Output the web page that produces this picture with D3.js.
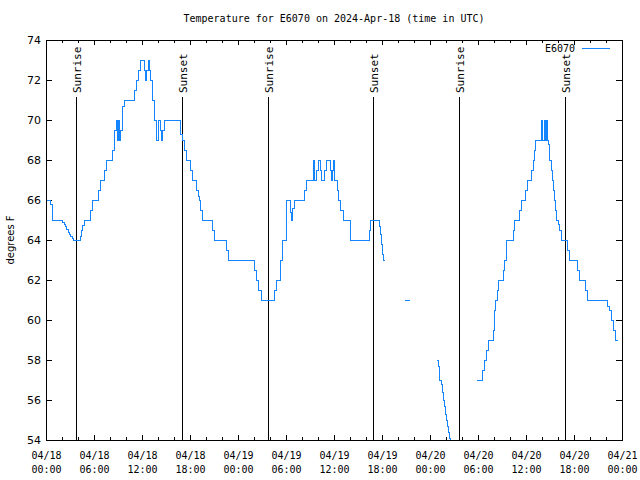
<!DOCTYPE html>
<html>
<head>
<meta charset="utf-8">
<script src="https://cdn.jsdelivr.net/npm/d3@7"></script>
<style>
  html, body { margin: 0; padding: 0; background: #fff; }
  svg { display: block; }
  text { fill: #000; }
</style>
</head>
<body>
<svg id="chart" width="640" height="480"></svg>
<script>
// ---- DATA (hours since 2024-04-18 00:00 UTC, degrees F); null = gap ----
const hours = [
  0, 0.58, 0.75, 2.08, 2.25, 2.42, 2.58, 2.75, 2.92, 3.08, 3.25, 3.4,
  4.33, 4.45, 4.6, 4.8, 5.58, 5.8, 6.5, 6.75, 7.3, 7.6,
  8.33, 8.5, 8.62, 8.75, 8.92, 9.08, 9.2, 9.33, 9.5, 9.62, 9.75,
  11.04, 11.3, 11.55, 11.8, 12.3, 12.45, 12.6, 12.75, 12.95, 13.1, 13.3, 13.5, 13.8,
  14.05, 14.25, 14.4, 14.6, 14.8, 16.8, 17.05, 17.3, 17.5, 18.1, 18.3,
  18.8, 19.05, 19.2, 19.35, 19.5, 20.8, 21.04, 22.5, 22.8,
  26.0, 26.3, 26.6, 26.9, 28.6, 28.8, 29.3, 29.5, 30.0, 30.12, 30.5, 30.7, 30.85, 31.0,
  32.3, 32.5, 33.4, 33.5, 33.62, 33.8, 34.0, 34.3, 34.42, 34.8, 35.0, 35.5, 35.65, 35.85, 35.95, 36.1,
  36.4, 36.5, 36.8, 37.2, 38.05, 40.4, 40.6, 41.65, 41.75, 41.95, 42.08, 42.2, 42.4,
  43.5,
  44.9, 45.5,
  47.0,
  48.92, 49.04, 49.17, 49.46, 49.58, 49.7, 49.83, 49.96, 50.08, 50.2, 50.33, 50.46, 50.58, 50.7,
  52.0,
  53.9, 54.6, 54.75, 55.1, 55.3, 55.96, 56.1, 56.2, 56.45, 56.6, 57.2, 57.35, 57.5, 57.6,
  58.4, 58.6, 59.2, 59.4, 59.9, 60.2, 60.7, 60.9, 61.1, 61.2,
  61.88, 62.0, 62.25, 62.38, 62.5, 62.63, 62.75, 62.9,
  63.17, 63.3, 63.4, 63.5, 63.7, 63.8, 64.0, 64.2, 64.4, 65.2, 65.4, 66.4, 66.7, 67.4, 67.7,
  70.2, 70.4, 70.7, 70.9, 71.2, 71.5
];
const temps = [
  66, 65.8, 65, 64.9, 64.8, 64.7, 64.55, 64.4, 64.3, 64.2, 64.1, 64,
  64.2, 64.5, 64.75, 65, 65.5, 66, 66.5, 67, 67.5, 68,
  68.5, 69, 69.5, 70, 69, 70, 69, 69.5, 70.3, 70.7, 71,
  71.5, 72, 72.5, 73, 72.5, 72, 72.5, 73, 72.5, 72, 71, 70, 69,
  70, 69.5, 69, 69.5, 70, 69.3, 69, 68.5, 68, 67.5, 67,
  66.5, 66.2, 66, 65.5, 65, 64.5, 64, 63.5, 63,
  62.5, 62, 61.5, 61, 61.5, 62, 63, 64, 64.5, 66, 65.4, 65, 65.6, 66,
  66.5, 67, 68, 67.5, 67, 67.5, 68, 67.5, 67, 67.5, 68, 67.5, 67, 67.5, 68, 67,
  66.5, 66, 65.5, 65, 64, 64.5, 65, 64.7, 64.3, 63.8, 63.3, 63, 63,
  null,
  61, 61,
  null,
  58, 57.7, 57, 56.8, 56.4, 56.0, 55.7, 55.3, 55.0, 54.7, 54.4, 54.1, 53.8, 53.5,
  null,
  57, 57.5, 58, 58.5, 59, 59.5, 60.5, 61, 61.5, 62, 62.5, 63, 63.5, 64,
  64.5, 65, 65.5, 66, 66.5, 67, 67.5, 68, 68.5, 69,
  70, 69, 70, 69, 70, 69, 68.8, 68,
  67.5, 67, 66.5, 66, 65.5, 65, 64.8, 64.5, 64, 63.5, 63, 62.5, 62, 61.5, 61,
  60.7, 60.5, 60, 59.5, 59, 59
];
const sunHours = [3.75, 17.04, 27.79, 40.92, 51.67, 64.92];
const sunLabels = ["Sunrise", "Sunset", "Sunrise", "Sunset", "Sunrise", "Sunset"];
const xTickHours = [0, 6, 12, 18, 24, 30, 36, 42, 48, 54, 60, 66, 72];
const xTickDates = ["04/18", "04/18", "04/18", "04/18", "04/19", "04/19", "04/19", "04/19", "04/20", "04/20", "04/20", "04/20", "04/21"];
const xTickTimes = ["00:00", "06:00", "12:00", "18:00", "00:00", "06:00", "12:00", "18:00", "00:00", "06:00", "12:00", "18:00", "00:00"];
const yTicks = [54, 56, 58, 60, 62, 64, 66, 68, 70, 72, 74];
const seriesName = "E6070";
const titleText = "Temperature for E6070 on 2024-Apr-18 (time in UTC)";
const yTitle = "degrees F";

// ---- LAYOUT ----
const L = 46, R = 622, T = 40, B = 440;
const svg = d3.select("#chart");
const mono = "'DejaVu Sans Mono', monospace";
const sans = "'DejaVu Sans', sans-serif";
const lineColor = "#1485ff";

const x = d3.scaleLinear().domain([0, 72]).range([L, R]);
const y = d3.scaleLinear().domain([54, 74]).range([B, T]);

svg.append("rect").attr("width", 640).attr("height", 480).attr("fill", "#fff");

svg.append("clipPath").attr("id", "clip")
  .append("rect").attr("x", L).attr("y", T).attr("width", R - L).attr("height", B - T + 1);

// title
svg.append("text").attr("x", 334).attr("y", 22).attr("text-anchor", "middle")
  .style("font-family", mono).style("font-size", "10px").text(titleText);

// ticks inward on all four sides
const minorHours = d3.range(0, 73, 2);
function tickSet(g, vals, orient, len) {
  vals.forEach(v => {
    if (orient === "bottom") g.append("line").attr("x1", Math.round(x(v)) + 0.5).attr("x2", Math.round(x(v)) + 0.5).attr("y1", B).attr("y2", B - len);
    if (orient === "top") g.append("line").attr("x1", Math.round(x(v)) + 0.5).attr("x2", Math.round(x(v)) + 0.5).attr("y1", T).attr("y2", T + len);
    if (orient === "left") g.append("line").attr("y1", Math.round(y(v)) + 0.5).attr("y2", Math.round(y(v)) + 0.5).attr("x1", L).attr("x2", L + len);
    if (orient === "right") g.append("line").attr("y1", Math.round(y(v)) + 0.5).attr("y2", Math.round(y(v)) + 0.5).attr("x1", R).attr("x2", R - len);
  });
}
const tg = svg.append("g").attr("stroke", "#000").attr("stroke-width", 1).attr("shape-rendering", "crispEdges");
tickSet(tg, minorHours.filter(h => h % 6 !== 0), "bottom", 3);
tickSet(tg, minorHours.filter(h => h % 6 !== 0), "top", 3);
tickSet(tg, xTickHours, "bottom", 5);
tickSet(tg, xTickHours, "top", 5);
tickSet(tg, yTicks, "left", 6);
tickSet(tg, yTicks, "right", 6);

// x axis labels
const xAxis = d3.axisBottom(x).tickValues(xTickHours).tickSize(0).tickFormat(() => "");
const xg = svg.append("g").attr("transform", `translate(0,${B})`).call(xAxis);
xg.select(".domain").remove();
xg.selectAll(".tick").each(function (d, i) {
  const t = d3.select(this).select("text")
    .attr("y", 0).attr("dy", null)
    .style("font-family", mono).style("font-size", "10px").attr("fill", "#000");
  t.append("tspan").attr("x", 0).attr("y", 19).text(xTickDates[i]);
  t.append("tspan").attr("x", 0).attr("y", 33).text(xTickTimes[i]);
});

// y axis labels
const yAxis = d3.axisLeft(y).tickValues(yTicks).tickSize(0).tickPadding(6).tickFormat(d3.format("d"));
const yg = svg.append("g").attr("transform", `translate(${L},0)`).call(yAxis);
yg.select(".domain").remove();
yg.selectAll("text").style("font-family", sans).style("font-size", "11px").attr("fill", "#000").attr("x", -5);

// y title
svg.append("text").attr("transform", "translate(14,240) rotate(-90)").attr("text-anchor", "middle")
  .style("font-family", sans).style("font-size", "10px").text(yTitle);

// sunrise / sunset lines
const sg = svg.append("g");
sunHours.forEach((h, i) => {
  const px = Math.round(x(h)) + 0.5;
  sg.append("line").attr("x1", px).attr("x2", px).attr("y1", 97).attr("y2", B)
    .attr("stroke", "#000").attr("stroke-width", 1).attr("shape-rendering", "crispEdges");
  sg.append("text").attr("transform", `translate(${px + 4},93) rotate(-90)`)
    .attr("text-anchor", "start")
    .style("font-family", mono).style("font-size", "11px").text(sunLabels[i]);
});

// data line
const pts = hours.map((h, i) => ({ h, v: temps[i] }));
const line = d3.line().defined(d => d.v !== null).x(d => x(d.h)).y(d => y(d.v)).curve(d3.curveStepAfter);
svg.append("path").datum(pts).attr("clip-path", "url(#clip)")
  .attr("fill", "none").attr("stroke", lineColor).attr("stroke-width", 1)
  .attr("shape-rendering", "crispEdges").attr("d", line);

// frame
svg.append("rect").attr("x", L + 0.5).attr("y", T + 0.5).attr("width", R - L).attr("height", B - T)
  .attr("fill", "none").attr("stroke", "#000").attr("stroke-width", 1).attr("shape-rendering", "crispEdges");

// legend
svg.append("text").attr("x", 575).attr("y", 52).attr("text-anchor", "end")
  .style("font-family", mono).style("font-size", "10px").text(seriesName);
svg.append("line").attr("x1", 582).attr("x2", 610).attr("y1", 48.5).attr("y2", 48.5)
  .attr("stroke", lineColor).attr("stroke-width", 1).attr("shape-rendering", "crispEdges");
</script>
</body>
</html>
